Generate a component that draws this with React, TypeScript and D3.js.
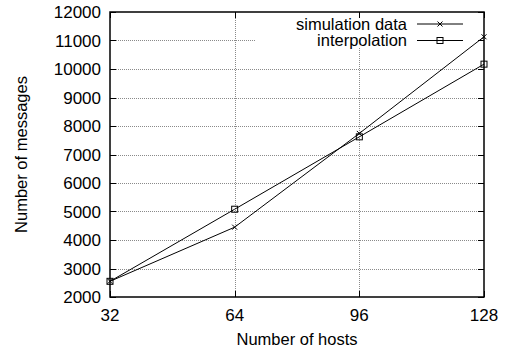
import { useEffect, useRef } from "react";
import * as d3 from "d3";

const hosts = [32, 64, 96, 128];
const simulationData = [2550, 4450, 7740, 11130];
const interpolationData = [2550, 5080, 7620, 10170];
const yTicks = [2000, 3000, 4000, 5000, 6000, 7000, 8000, 9000, 10000, 11000, 12000];
const seriesNames = ["simulation data", "interpolation"];

function MessagesChart() {
  const ref = useRef<SVGSVGElement>(null);

  const width = 510,
    height = 351;
  const margin = { top: 12, right: 26, bottom: 54, left: 110 };

  useEffect(() => {
    if (!ref.current) return;
    const svg = d3.select(ref.current);
    svg.selectAll("*").remove();

    const x = d3.scaleLinear().domain([32, 128]).range([margin.left, width - margin.right]);
    const y = d3.scaleLinear().domain([2000, 12000]).range([height - margin.bottom, margin.top]);
    const font = "'Liberation Sans', Arial, sans-serif";

    const g = svg.append("g");

    // grid
    const grid = g.append("g").attr("stroke", "#8a8a8a").attr("stroke-width", 1).attr("stroke-dasharray", "1,1");
    yTicks.slice(1, -1).forEach((t) => {
      grid.append("line")
        .attr("x1", x(32)).attr("x2", x(128))
        .attr("y1", Math.round(y(t)) + 0.5).attr("y2", Math.round(y(t)) + 0.5);
    });
    hosts.slice(1, -1).forEach((h) => {
      grid.append("line")
        .attr("x1", Math.round(x(h)) + 0.5).attr("x2", Math.round(x(h)) + 0.5)
        .attr("y1", y(2000)).attr("y2", y(12000));
    });

    // legend background hides grid
    g.append("rect")
      .attr("x", 256).attr("y", 16)
      .attr("width", 222).attr("height", 32)
      .attr("fill", "white");

    // ticks inward on all sides
    const ticks = g.append("g").attr("stroke", "black").attr("stroke-width", 1);
    yTicks.forEach((t) => {
      const yy = Math.round(y(t)) + 0.5;
      ticks.append("line").attr("x1", x(32)).attr("x2", x(32) + 6).attr("y1", yy).attr("y2", yy);
      ticks.append("line").attr("x1", x(128)).attr("x2", x(128) - 6).attr("y1", yy).attr("y2", yy);
    });
    hosts.forEach((h) => {
      const xx = Math.round(x(h)) + 0.5;
      ticks.append("line").attr("x1", xx).attr("x2", xx).attr("y1", y(2000)).attr("y2", y(2000) - 6);
      ticks.append("line").attr("x1", xx).attr("x2", xx).attr("y1", y(12000)).attr("y2", y(12000) + 6);
    });

    // border
    g.append("rect")
      .attr("x", x(32)).attr("y", y(12000))
      .attr("width", x(128) - x(32)).attr("height", y(2000) - y(12000))
      .attr("fill", "none").attr("stroke", "black").attr("stroke-width", 1.5);

    // tick labels
    g.append("g")
      .selectAll("text")
      .data(yTicks)
      .enter()
      .append("text")
      .attr("x", 101)
      .attr("y", (d) => y(d))
      .attr("dy", "0.36em")
      .attr("text-anchor", "end")
      .style("font-family", font)
      .style("font-size", "17px")
      .text((d) => String(d));

    g.append("g")
      .selectAll("text")
      .data(hosts)
      .enter()
      .append("text")
      .attr("x", (d) => x(d))
      .attr("y", 321)
      .attr("text-anchor", "middle")
      .style("font-family", font)
      .style("font-size", "17px")
      .text((d) => String(d));

    // axis labels
    g.append("text")
      .attr("x", (x(32) + x(128)) / 2)
      .attr("y", 345)
      .attr("text-anchor", "middle")
      .style("font-family", font)
      .style("font-size", "16.5px")
      .text("Number of hosts");

    g.append("text")
      .attr("transform", `translate(27, ${(y(2000) + y(12000)) / 2}) rotate(-90)`)
      .attr("text-anchor", "middle")
      .style("font-family", font)
      .style("font-size", "16.5px")
      .text("Number of messages");

    const line = d3.line<number>()
      .x((_, i) => x(hosts[i]))
      .y((d) => y(d));

    const drawCross = (sel: any, cx: number, cy: number) => {
      const s = 2.5;
      sel.append("path")
        .attr("d", `M${cx - s},${cy - s}L${cx + s},${cy + s}M${cx - s},${cy + s}L${cx + s},${cy - s}`)
        .attr("stroke", "black").attr("stroke-width", 1).attr("fill", "none");
    };
    const drawSquare = (sel: any, cx: number, cy: number) => {
      const s = 3;
      sel.append("rect")
        .attr("x", cx - s).attr("y", cy - s).attr("width", 2 * s).attr("height", 2 * s)
        .attr("stroke", "black").attr("stroke-width", 1).attr("fill", "none");
    };

    const series = [
      { name: seriesNames[0], values: simulationData, marker: drawCross },
      { name: seriesNames[1], values: interpolationData, marker: drawSquare },
    ];

    series.forEach((s, i) => {
      const sg = g.append("g");
      sg.append("path")
        .attr("d", line(s.values)!)
        .attr("fill", "none")
        .attr("stroke", "black")
        .attr("stroke-width", 1);
      s.values.forEach((v, j) => s.marker(sg, x(hosts[j]), y(v)));

      // legend entry
      const ly = 24 + i * 16.5;
      sg.append("text")
        .attr("x", 407)
        .attr("y", ly)
        .attr("dy", "0.36em")
        .attr("text-anchor", "end")
        .style("font-family", font)
        .style("font-size", "16.5px")
        .text(s.name);
      sg.append("line")
        .attr("x1", 417).attr("x2", 463)
        .attr("y1", ly).attr("y2", ly)
        .attr("stroke", "black").attr("stroke-width", 1);
      s.marker(sg, 440, ly);
    });
  }, []);

  return <svg ref={ref} width={width} height={height} style={{ display: "block", background: "white" }} />;
}

export default function App() {
  return (
    <div style={{ position: "absolute", left: 0, top: 0 }}>
      <MessagesChart />
    </div>
  );
}
